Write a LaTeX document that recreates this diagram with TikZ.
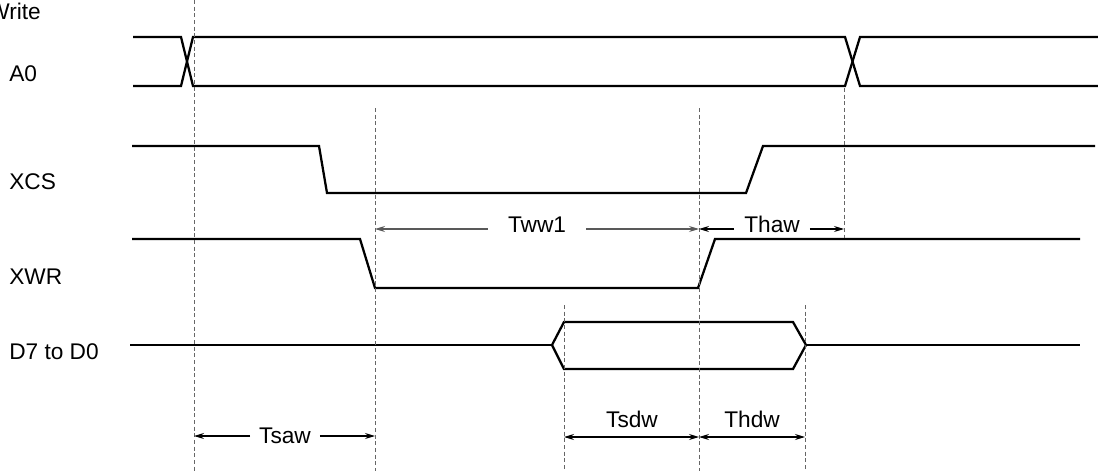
\documentclass[tikz,border=0pt]{standalone}
\usepackage{fontspec}
\setmainfont{Liberation Sans}
\usetikzlibrary{arrows.meta}
\tikzset{>={Stealth[length=7.5pt,width=4.5pt]}}

\begin{document}
\begin{tikzpicture}[x=0.75pt,y=-0.75pt,font=\fontsize{17}{20}\selectfont,
    wave/.style={line width=1.7pt},
    guide/.style={densely dashed,gray!80!black,line width=0.6pt},
    dimline/.style={->,line width=0.8pt}]
\useasboundingbox (0,0) rectangle (1098,471);

% signal names
\node[anchor=west,inner sep=0pt] (title) at (-12,11) {Write};
\foreach \name/\txt/\y in {lA/A0/74,lC/XCS/182,lW/XWR/277,lD/D7 to D0/352}
  \node[anchor=west,inner sep=0pt] (\name) at (9,\y) {\txt};

% waveforms
\draw[wave] (133,37) -- (181,37) -- (193,86) -- (845,86) -- (860,37) -- (1098,37);
\draw[wave] (133,86) -- (181,86) -- (193,37) -- (845,37) -- (860,86) -- (1098,86);
\draw[wave] (132,146) -- (319,146) -- (327,193) -- (746,193) -- (763,146) -- (1095,146);
\draw[wave] (132,239) -- (360,239) -- (375,288) -- (698,288) -- (715,239) -- (1080,239);
\draw[wave] (130,345) -- (552,345);
\draw[wave] (552,345) -- (564,322) -- (793,322) -- (806,345) -- (793,369) -- (564,369) -- cycle;
\draw[wave] (806,345) -- (1080,345);

% guides
\foreach \x/\top/\bot in {194/0/471,375/108/471,699/108/471,844/88/238,564/305/471,805/305/471}
  \draw[guide] (\x,\top) -- (\x,\bot);

% timing marks
\coordinate (w1) at (375,229);
\coordinate (w2) at (699,229);
\coordinate (h2) at (844,229);
\coordinate (s1) at (194,436);
\coordinate (s2) at (375,436);
\coordinate (d1) at (564,437);
\coordinate (d2) at (699,437);
\coordinate (d3) at (805,437);

\node[inner xsep=15pt] (tww) at (537,225) {Tww1};
\node[inner xsep=7.5pt] (thaw) at (772,224) {Thaw};
\node[inner xsep=6.5pt] (tsaw) at (285,436) {Tsaw};
\node (tsdw) at (632,419) {Tsdw};
\node (thdw) at (752,419) {Thdw};

\draw[dimline,gray!70!black] (tww.west |- w1) -- (w1);
\draw[dimline,gray!70!black] (tww.east |- w2) -- (w2);
\draw[dimline] (thaw.west |- w2) -- (w2);
\draw[dimline] (thaw.east |- h2) -- (h2);
\draw[dimline] (tsaw.west |- s1) -- (s1);
\draw[dimline] (tsaw.east |- s2) -- (s2);
\draw[dimline,<->] (d1) -- (d2);
\draw[dimline,<->] (d2) -- (d3);
\end{tikzpicture}
\end{document}
